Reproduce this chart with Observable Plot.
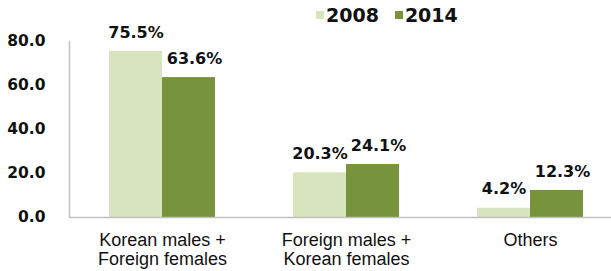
<!DOCTYPE html>
<html><head><meta charset="utf-8">
<script src="https://cdn.jsdelivr.net/npm/d3@7"></script>
<script src="https://cdn.jsdelivr.net/npm/@observablehq/plot@0.6"></script>
<style>
body{margin:0;background:#fff}
#wrap{position:relative;width:611px;height:271px;overflow:hidden}
#wrap > svg{position:absolute;left:0;top:0}
.lg-swatches{position:absolute !important;left:316px;top:4px;margin:0 !important;font:bold 19px "DejaVu Sans",sans-serif !important;color:#111 !important;min-height:0 !important;z-index:2}
.lg-swatch{margin-right:16px !important}
.lg-swatch > svg{margin-right:2px !important}
</style></head><body><div id="wrap"></div>
<script>
const categories = ["Korean males +\nForeign females", "Foreign males +\nKorean females", "Others"];
const years = ["2008", "2014"];
const values2008 = [75.5, 20.3, 4.2];
const values2014 = [63.6, 24.1, 12.3];
const yTicks = [0, 20, 40, 60, 80];
const colors = ["#d7e4bd", "#77933c"];

const rows2008 = categories.map((c, i) => ({category: c, year: years[0], value: values2008[i]}));
const rows2014 = categories.map((c, i) => ({category: c, year: years[1], value: values2014[i]}));

const labelStyle = {fontSize: 16, fontWeight: "bold", fontFamily: "DejaVu Sans", fill: "#111"};

const chart = Plot.plot({
  width: 611, height: 271,
  marginLeft: 69, marginRight: 0, marginTop: 41, marginBottom: 54,
  style: {background: "transparent", color: "#111"},
  x: {domain: categories, paddingInner: 0.4255, paddingOuter: 0.1816, align: 0.582, axis: null, label: null},
  y: {domain: [0, 80], axis: null, label: null},
  color: {domain: years, range: colors},
  marks: [
    Plot.barY(rows2008, {x: "category", y: "value", fill: "year", insetRight: 53}),
    Plot.barY(rows2014, {x: "category", y: "value", fill: "year", insetLeft: 53}),
    Plot.frame({anchor: "left", stroke: "#c0c0c0", strokeWidth: 1.5}),
    Plot.ruleY([0], {stroke: "#c0c0c0", strokeWidth: 1.5}),
    Plot.axisY(yTicks, {label: null, tickSize: 0, tickPadding: 24, tickFormat: d => d.toFixed(1), fontSize: 15.5, fontWeight: "bold", fontFamily: "DejaVu Sans", fill: "#111"}),
    Plot.axisX({label: null, tickSize: 0, tickPadding: 15, fontSize: 18, fontFamily: "Liberation Sans", lineHeight: 1.05, fill: "#111"}),
    Plot.text(rows2008, {x: "category", y: "value", text: d => d.value.toFixed(1) + "%", dx: -26.5, dy: -19, ...labelStyle}),
    Plot.text(rows2014, {x: "category", y: "value", text: d => d.value.toFixed(1) + "%", dx: 32, dy: -19, ...labelStyle})
  ]
});

const legend = Plot.legend({color: {domain: years, range: colors}, className: "lg", swatchSize: 8});
const wrap = document.getElementById("wrap");
wrap.appendChild(chart);
wrap.appendChild(legend);
</script></body></html>
